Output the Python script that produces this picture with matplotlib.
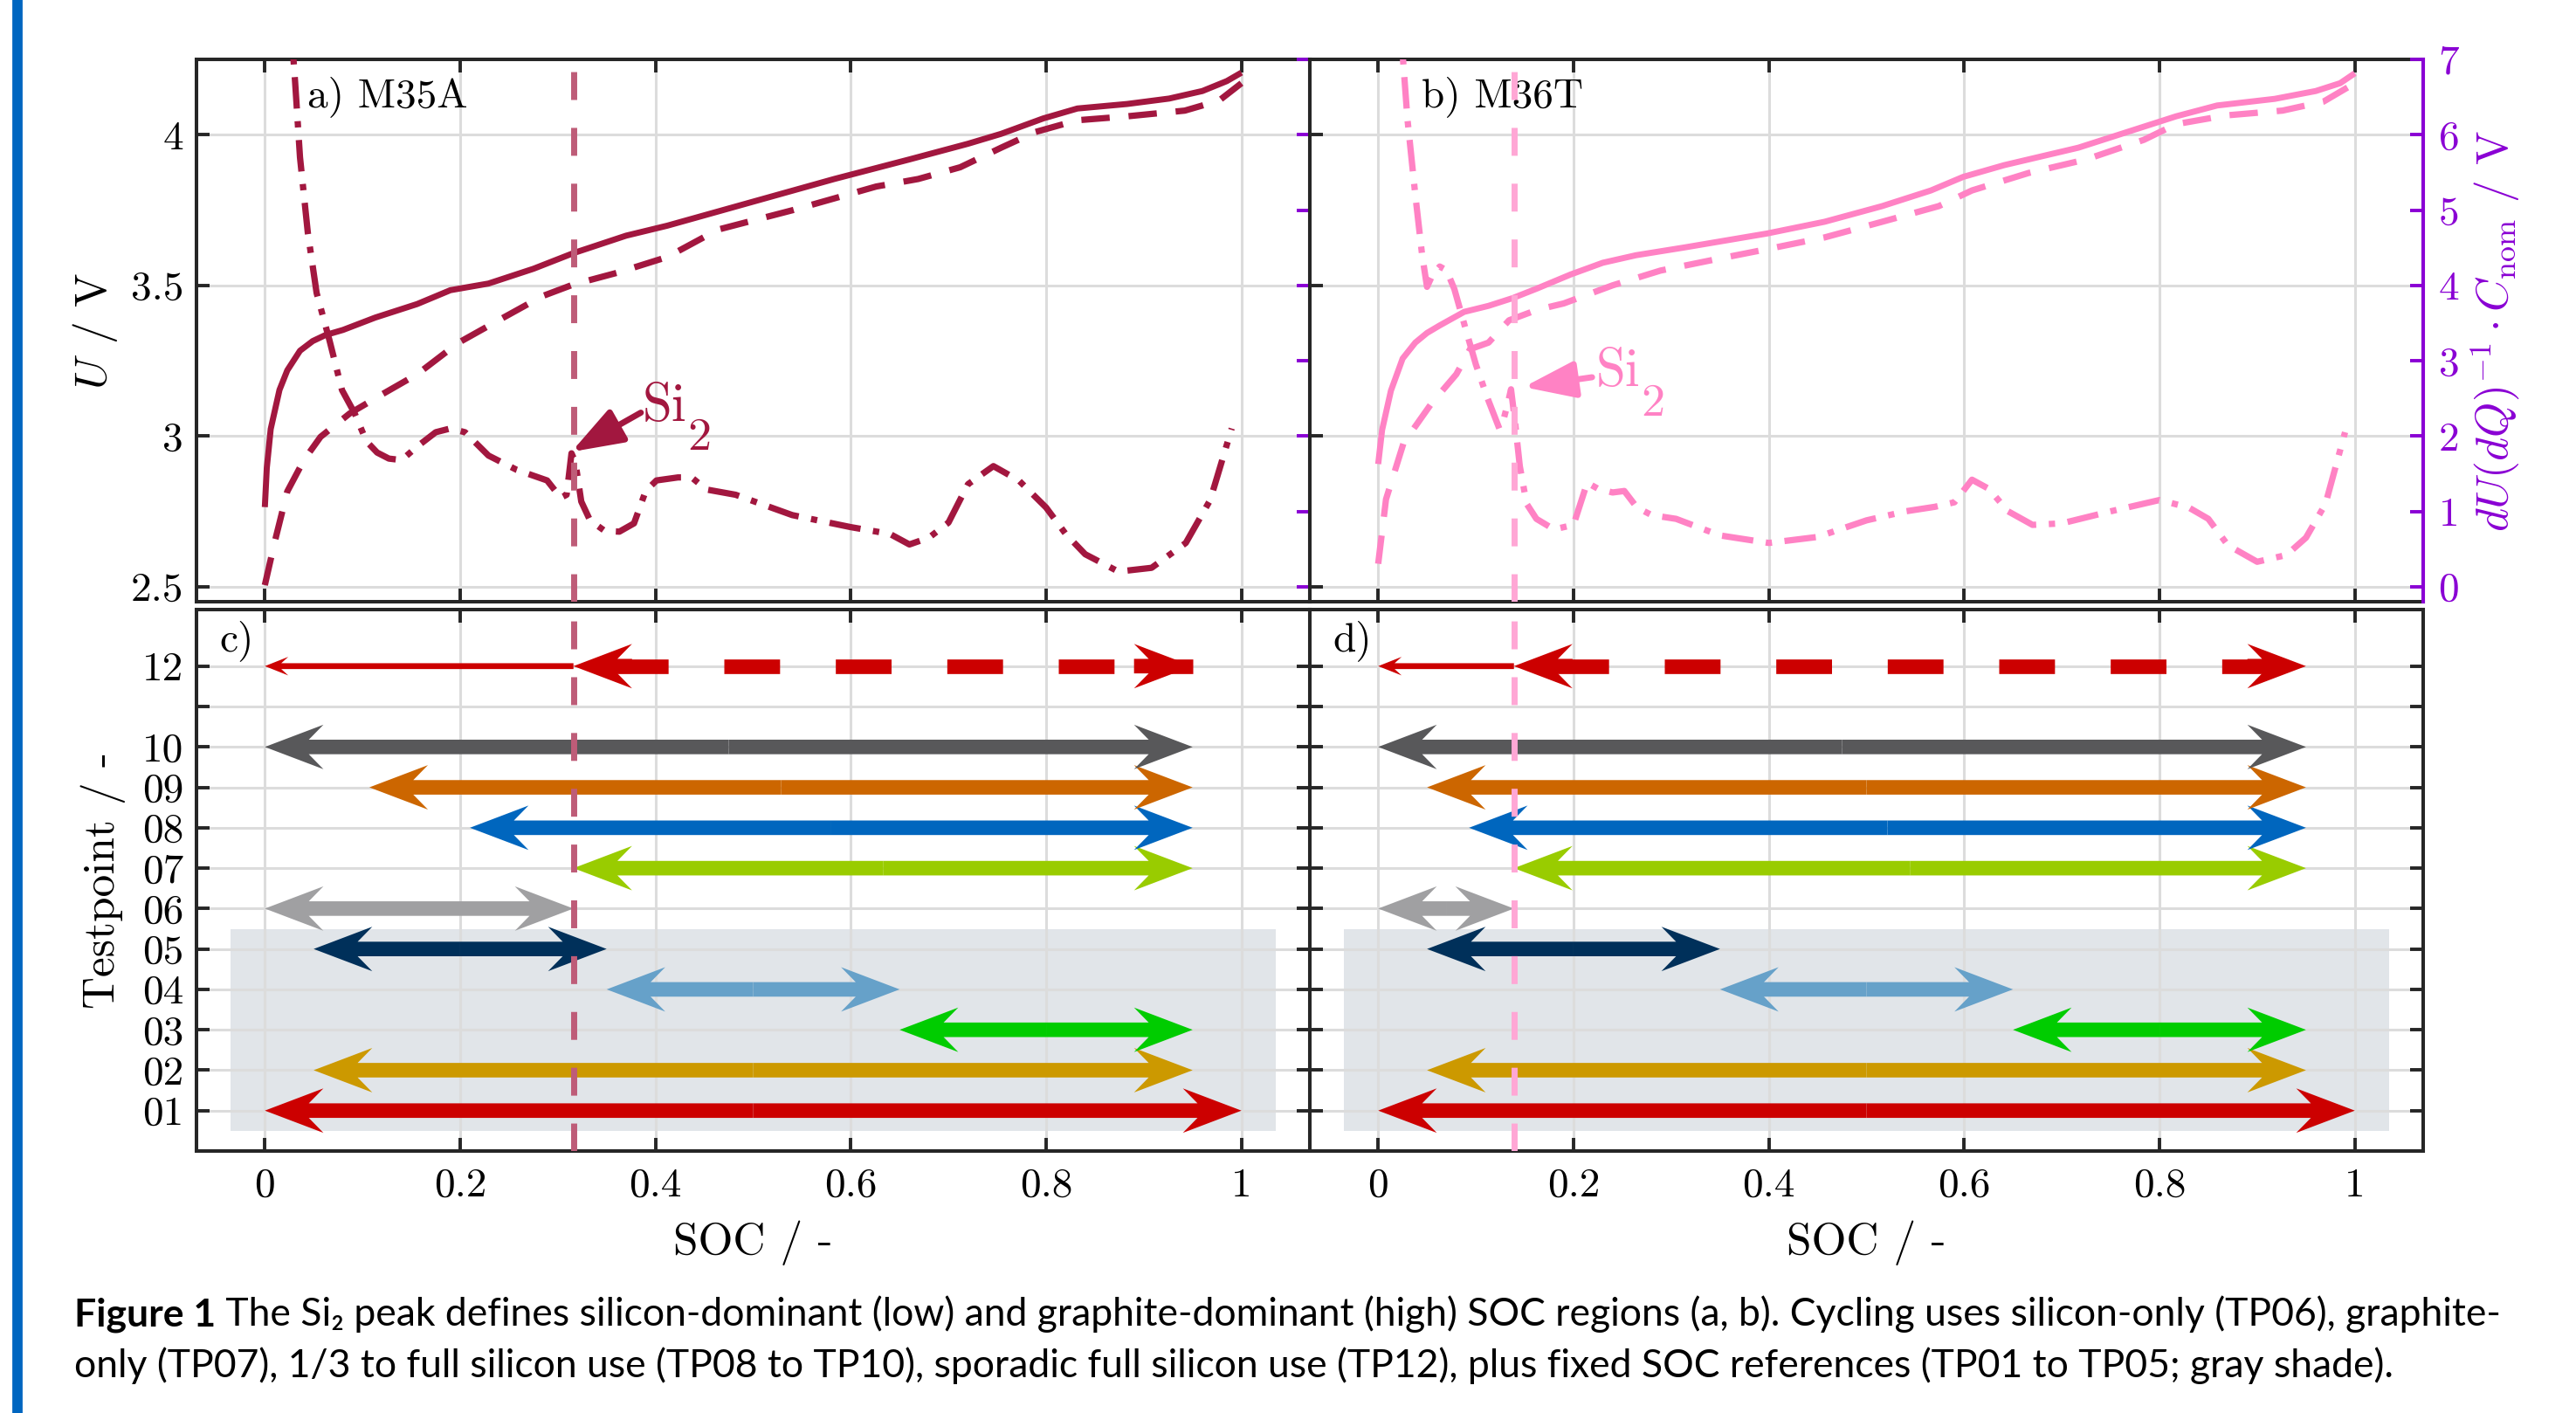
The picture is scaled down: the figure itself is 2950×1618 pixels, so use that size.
import matplotlib
matplotlib.use('Agg')
import matplotlib.pyplot as plt
from matplotlib.patches import Rectangle

plt.rcParams['font.family'] = 'cmr10'
plt.rcParams['mathtext.fontset'] = 'cm'
plt.rcParams['axes.unicode_minus'] = False
plt.rcParams['axes.formatter.use_mathtext'] = True

# ---------------------------------------------------------------
# Daten
# M35A: Spannung Laden (durchgezogen) / Entladen (gestrichelt)
soc_a_u1 = [0, 0.002, 0.006, 0.015, 0.023, 0.036, 0.049, 0.062, 0.08, 0.113, 0.156, 0.19,
            0.229, 0.275, 0.316, 0.37, 0.412, 0.498, 0.583, 0.66, 0.72, 0.754, 0.797, 0.832,
            0.883, 0.926, 0.96, 0.985, 1.0]
u_a_1 = [2.764, 2.894, 3.023, 3.153, 3.218, 3.283, 3.315, 3.335, 3.352, 3.393, 3.438, 3.484,
         3.506, 3.555, 3.607, 3.665, 3.698, 3.776, 3.853, 3.918, 3.97, 4.003, 4.054, 4.087,
         4.102, 4.12, 4.145, 4.178, 4.206]
soc_a_u2 = [0, 0.01, 0.023, 0.04, 0.057, 0.087, 0.121, 0.156, 0.198, 0.241, 0.284, 0.316, 0.361,
            0.412, 0.464, 0.541, 0.626, 0.669, 0.712, 0.754, 0.789, 0.832, 0.883, 0.942, 0.977, 1.0]
u_a_2 = [2.505, 2.647, 2.816, 2.92, 2.997, 3.075, 3.14, 3.205, 3.309, 3.387, 3.464, 3.503, 3.542,
         3.594, 3.685, 3.75, 3.828, 3.853, 3.892, 3.957, 4.009, 4.048, 4.061, 4.08, 4.113, 4.171]
# M35A: DVA
soc_a_dva = [0.026, 0.031, 0.036, 0.044, 0.053, 0.066, 0.079, 0.092, 0.104, 0.115, 0.127, 0.14,
             0.156, 0.175, 0.19, 0.205, 0.229, 0.258, 0.289, 0.303, 0.309, 0.314, 0.318, 0.324,
             0.333, 0.348, 0.363, 0.378, 0.39, 0.401, 0.423, 0.437, 0.452, 0.482, 0.54, 0.6,
             0.64, 0.66, 0.68, 0.7, 0.72, 0.746, 0.772, 0.8, 0.82, 0.84, 0.874, 0.908, 0.943,
             0.968, 0.99]
dva_a = [7.6, 6.7, 5.7, 4.7, 3.9, 3.28, 2.61, 2.3, 1.93, 1.78, 1.7, 1.68,
         1.86, 2.05, 2.1, 2.05, 1.74, 1.55, 1.41, 1.18, 1.22, 1.77, 1.65, 1.13,
         0.88, 0.74, 0.73, 0.84, 1.27, 1.41, 1.45, 1.45, 1.29, 1.22, 0.95, 0.79,
         0.7, 0.56, 0.65, 0.85, 1.36, 1.6, 1.41, 1.05, 0.7, 0.43, 0.2, 0.25, 0.58,
         1.15, 2.1]

# M36T
soc_b_u1 = [0, 0.004, 0.013, 0.025, 0.038, 0.05, 0.063, 0.088, 0.113, 0.138, 0.163, 0.197,
            0.23, 0.264, 0.314, 0.398, 0.457, 0.516, 0.566, 0.599, 0.641, 0.717, 0.767, 0.817,
            0.859, 0.918, 0.96, 0.985, 1.0]
u_b_1 = [2.907, 3.02, 3.15, 3.257, 3.31, 3.342, 3.367, 3.412, 3.432, 3.458, 3.49, 3.536,
         3.575, 3.6, 3.626, 3.672, 3.711, 3.763, 3.815, 3.86, 3.899, 3.957, 4.009, 4.061,
         4.097, 4.119, 4.145, 4.171, 4.204]
soc_b_u2 = [0, 0.008, 0.026, 0.055, 0.08, 0.094, 0.113, 0.134, 0.163, 0.19, 0.24, 0.289, 0.348,
            0.398, 0.457, 0.516, 0.574, 0.608, 0.666, 0.725, 0.784, 0.817, 0.868, 0.926, 0.968, 1.0]
u_b_2 = [2.576, 2.79, 2.977, 3.11, 3.205, 3.288, 3.31, 3.384, 3.419, 3.44, 3.5, 3.549, 3.588,
         3.62, 3.659, 3.711, 3.763, 3.815, 3.873, 3.918, 3.983, 4.035, 4.064, 4.08, 4.11, 4.171]
soc_b_dva = [0.022, 0.03, 0.038, 0.045, 0.05, 0.056, 0.063, 0.07, 0.078, 0.09, 0.1, 0.112,
             0.124, 0.128, 0.133, 0.136, 0.14, 0.145, 0.152, 0.162, 0.18, 0.2, 0.207, 0.214,
             0.225, 0.24, 0.252, 0.265, 0.28, 0.305, 0.35, 0.4, 0.45, 0.5, 0.54, 0.57, 0.59,
             0.608, 0.625, 0.645, 0.67, 0.7, 0.75, 0.8, 0.83, 0.85, 0.87, 0.9, 0.93, 0.95,
             0.97, 0.99]
dva_b = [7.6, 6.2, 5.2, 4.4, 3.98, 4.15, 4.25, 4.2, 3.95, 3.4, 2.95, 2.5,
         2.1, 2.2, 2.45, 2.62, 2.2, 1.6, 1.1, 0.9, 0.76, 0.82, 1.1, 1.38,
         1.3, 1.25, 1.27, 1.05, 0.95, 0.9, 0.68, 0.58, 0.66, 0.88, 1.0, 1.06, 1.12,
         1.42, 1.3, 1.0, 0.82, 0.84, 1.0, 1.15, 1.05, 0.9, 0.55, 0.33, 0.42, 0.65,
         1.1, 2.05]

# Si2-Peak (Grenze Silizium / Graphit)
si2_a = 0.316
si2_b = 0.139

# Testpunkte 01..10 (Start / Ende SOC)
testpunkte = [1, 2, 3, 4, 5, 6, 7, 8, 9, 10]
tp_farben = ['#CC0000', '#CC9900', '#00CC00', '#66A1C9', '#00305A',
             '#A0A0A2', '#99CC00', '#0066BE', '#CC6600', '#58585A']
tp_start_a = [0, 0.05, 0.65, 0.35, 0.05, 0, si2_a, 0.21, 0.107, 0]
tp_ende_a = [1.0, 0.95, 0.95, 0.65, 0.35, si2_a, 0.95, 0.95, 0.95, 0.95]
tp_start_b = [0, 0.05, 0.65, 0.35, 0.05, 0, si2_b, 0.093, 0.05, 0]
tp_ende_b = [1.0, 0.95, 0.95, 0.65, 0.35, si2_b, 0.95, 0.95, 0.95, 0.95]
tp12_ende = 0.95
tp12_farbe = '#CC0000'
tp_labels = ['01', '02', '03', '04', '05', '06', '07', '08', '09', '10', '', '12']

soc_ticks = [0, 0.2, 0.4, 0.6, 0.8, 1]
soc_ticklabels = ['0', '0.2', '0.4', '0.6', '0.8', '1']
u_ticks = [2.5, 3, 3.5, 4]
u_ticklabels = ['2.5', '3', '3.5', '4']
dva_ticks = [0, 1, 2, 3, 4, 5, 6, 7]

# ---------------------------------------------------------------
CRIMSON = '#A2173F'
PINK = '#FF82C4'
PURPLE = '#8A00D4'
GRIDC = '#DCDCDC'
SPINEC = '#262626'
SHADE = '#E1E5E9'

# Pfeilgeometrie (x in SOC, y in Testpunkt-Einheiten)
SHAFT, HEAD_W, HEAD_L, OVER = 0.36, 1.10, 0.06, 0.25


def pfeil(ax, x0, x1, y, farbe):
    mitte = (x0 + x1) / 2
    for ende in (x0, x1):
        ax.arrow(mitte, y, ende - mitte, 0, width=SHAFT, head_width=HEAD_W,
                 head_length=HEAD_L, overhang=OVER, length_includes_head=True,
                 color=farbe, lw=0, zorder=3)


def tp12(ax, si2):
    # duenner Pfeil bis Si2, gestrichelter dicker Pfeil ab Si2
    ax.arrow(si2, 12, -si2, 0, width=0.145, head_width=0.46, head_length=0.024,
             overhang=0.3, length_includes_head=True, color=tp12_farbe, lw=0, zorder=3)
    ax.plot([si2, tp12_ende], [12, 12], color=tp12_farbe, lw=6,
            ls=(5.0, (3.83, 3.83)), dash_capstyle='butt', zorder=3)
    ax.arrow(si2 + HEAD_L, 12, -HEAD_L, 0, width=SHAFT, head_width=HEAD_W,
             head_length=HEAD_L, overhang=OVER, length_includes_head=True,
             color=tp12_farbe, lw=0, zorder=3)
    ax.arrow(tp12_ende - HEAD_L, 12, HEAD_L, 0, width=SHAFT, head_width=HEAD_W,
             head_length=HEAD_L, overhang=OVER, length_includes_head=True,
             color=tp12_farbe, lw=0, zorder=3)


def rahmen(ax):
    for s in ax.spines.values():
        s.set_color(SPINEC)
        s.set_linewidth(1.45)
    ax.set_xlim(-0.07, 1.07)
    ax.set_xticks(soc_ticks)
    ax.grid(True, color=GRIDC, lw=1.1)
    ax.set_axisbelow('line')
    ax.tick_params(direction='in', length=5.4, width=1.4, color=SPINEC,
                   labelsize=17, top=True, bottom=True)


fig = plt.figure(figsize=(14.75, 8.09), dpi=200)

# blauer Balken links
fig.patches.append(Rectangle((15 / 2950, 0), 9 / 2950, 1, transform=fig.transFigure,
                             color='#0066C0', zorder=0))

oben_y, oben_h = 1 - 689 / 1618, 621 / 1618
unten_y, unten_h = 1 - 1318 / 1618, 620 / 1618
links_x, rechts_x, breite = 225 / 2950, 1500 / 2950, 1275 / 2950

panels = [
    dict(farbe=CRIMSON, vfarbe='#BE5C78', x=links_x, name='a) M35A', unten='c)', si2=si2_a,
         u1=(soc_a_u1, u_a_1), u2=(soc_a_u2, u_a_2), dva=(soc_a_dva, dva_a),
         start=tp_start_a, ende=tp_ende_a, tip=(0.314, 1.79), tail=(0.385, 2.31),
         txt=(0.387, 2.2)),
    dict(farbe=PINK, vfarbe='#FFA7D5', x=rechts_x, name='b) M36T', unten='d)', si2=si2_b,
         u1=(soc_b_u1, u_b_1), u2=(soc_b_u2, u_b_2), dva=(soc_b_dva, dva_b),
         start=tp_start_b, ende=tp_ende_b, tip=(0.149, 2.65), tail=(0.219, 2.78),
         txt=(0.223, 2.66)),
]

for i, p in enumerate(panels):
    # ---- oben: Spannung + DVA
    ax = fig.add_axes([p['x'], oben_y, breite, oben_h])
    rahmen(ax)
    ax.set_ylim(2.45, 4.25)
    ax.set_yticks(u_ticks)
    ax.tick_params(labelbottom=False, right=False, pad=5.4)
    ax.plot(*p['u1'], color=p['farbe'], lw=2.5, solid_capstyle='butt', solid_joinstyle='round')
    ax.plot(*p['u2'], color=p['farbe'], lw=2.6, ls=(0, (4.5, 3)))
    if i == 0:
        ax.set_yticklabels(u_ticklabels)
        ax.set_ylabel('$U$ / V', fontsize=18.5)
        ax.yaxis.set_label_coords(-0.069, 0.5)
    else:
        ax.set_yticklabels([])
    ax.text(0.1, 0.932, p['name'], transform=ax.transAxes, fontsize=17, va='center')

    tw = ax.twinx()
    tw.set_ylim(-0.2, 7)
    tw.set_yticks(dva_ticks)
    tw.tick_params(axis='y', direction='in', length=5.4, width=1.4, colors=PURPLE,
                   labelsize=17, pad=6)
    tw.spines['right'].set_color(PURPLE)
    tw.spines['right'].set_linewidth(1.45)
    for s in ('left', 'top', 'bottom'):
        tw.spines[s].set_visible(False)
    tw.plot(*p['dva'], color=p['farbe'], lw=2.6, ls=(0, (5, 2, 1, 2)))
    tw.axvline(p['si2'], color=p['vfarbe'], lw=2.5, ls=(0, (4.6, 4.6)), zorder=4)
    tw.annotate('', xy=p['tip'], xytext=p['tail'],
                arrowprops=dict(arrowstyle='-|>,head_length=0.9,head_width=0.32',
                                mutation_scale=20, color=p['farbe'], lw=2.5,
                                shrinkA=0, shrinkB=0))
    tw.text(*p['txt'], 'Si', color=p['farbe'], fontsize=22, va='baseline')
    tw.annotate('2', xy=p['txt'], xytext=(18.5, -12), textcoords='offset points',
                color=p['farbe'], fontsize=19.5, va='baseline')
    if i == 0:
        tw.set_yticklabels([])
    else:
        tw.set_ylabel(r'$dU(dQ)^{-1}\cdot C_\mathrm{nom}$ / V', fontsize=18.5, color=PURPLE)
        tw.yaxis.set_label_coords(1.0408, 0.5)

    # ---- unten: Testpunkte
    bx = fig.add_axes([p['x'], unten_y, breite, unten_h])
    rahmen(bx)
    bx.set_ylim(0, 13.4)
    bx.set_yticks(range(1, 13))
    bx.tick_params(right=True, pad=5.4)
    bx.tick_params(axis='x', pad=7)
    bx.set_xticklabels(soc_ticklabels)
    if i == 0:
        bx.set_yticklabels(tp_labels)
        bx.set_ylabel('Testpoint / -', fontsize=18.5)
        bx.yaxis.set_label_coords(-0.0635, 0.5)
    else:
        bx.set_yticklabels([])
    bx.set_xlabel('SOC / -', fontsize=18.5)
    bx.xaxis.set_label_coords(0.5, -0.128)
    bx.add_patch(Rectangle((-0.035, 0.5), 1.07, 5.0, color=SHADE, lw=0, zorder=1))
    for tp, x0, x1, c in zip(testpunkte, p['start'], p['ende'], tp_farben):
        pfeil(bx, x0, x1, tp, c)
    tp12(bx, p['si2'])
    bx.axvline(p['si2'], color=p['vfarbe'], lw=2.5, ls=(0, (4.6, 4.6)), zorder=4)
    bx.text(0.021, 0.942, p['unten'], transform=bx.transAxes, fontsize=17, va='center')

# ---- Bildunterschrift
fam = ['Lato', 'DejaVu Sans']
fett = 'Figure 1'
zeile1 = ' The Si\u2082 peak defines silicon-dominant (low) and graphite-dominant (high) SOC regions (a, b). Cycling uses silicon-only (TP06), graphite-'
zeile2 = 'only (TP07), 1/3 to full silicon use (TP08 to TP10), sporadic full silicon use (TP12), plus fixed SOC references (TP01 to TP05; gray shade).'

r = fig.canvas.get_renderer()
probe_a = fig.text(0, 0, fett, family=fam, weight='bold', fontsize=15)
probe_b = fig.text(0, 0, zeile1, family=fam, fontsize=15)
w = probe_a.get_window_extent(r).width + probe_b.get_window_extent(r).width
groesse = 15 * 2778 / w
probe_a.remove()
probe_b.remove()

x0 = 85 / 2950
t1 = fig.text(x0, 1 - 1518 / 1618, fett, family=fam, weight='bold', fontsize=groesse,
              va='baseline')
wa = t1.get_window_extent(r).width / 2950
fig.text(x0 + wa, 1 - 1518 / 1618, zeile1, family=fam, fontsize=groesse, va='baseline')
fig.text(x0, 1 - 1577 / 1618, zeile2, family=fam, fontsize=groesse, va='baseline')

fig.savefig('out.png', dpi=200)
